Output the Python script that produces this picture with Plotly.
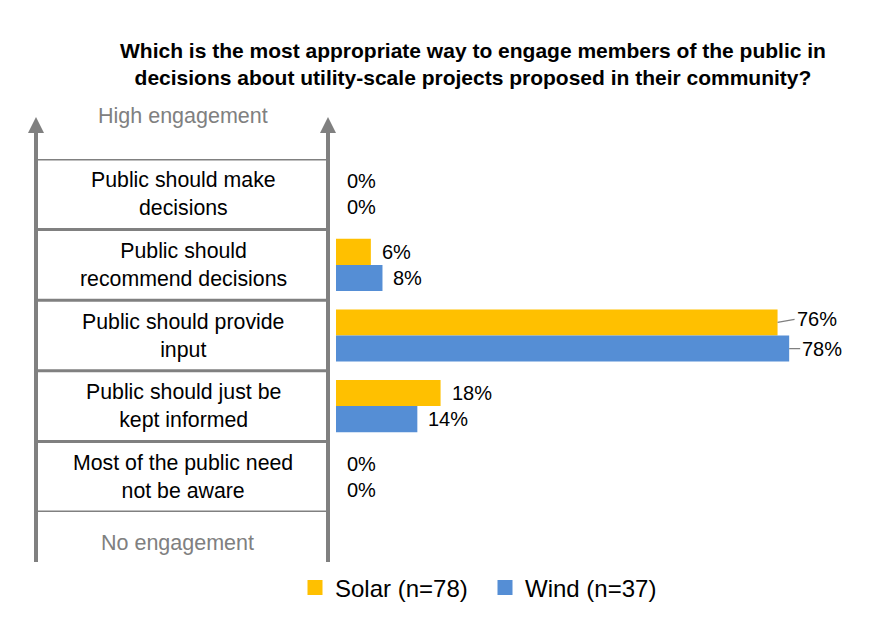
import plotly.graph_objects as go

categories = ["Public should make<br>decisions",
              "Public should<br>recommend decisions",
              "Public should provide<br>input",
              "Public should just be<br>kept informed",
              "Most of the public need<br>not be aware"]
solar = [0, 6, 76, 18, 0]
wind = [0, 8, 78, 14, 0]
series_names = ["Solar (n=78)", "Wind (n=37)"]
colors = ["#FFC000", "#558ED5"]
title = ("Which is the most appropriate way to engage members of the public in<br>"
         "decisions about utility-scale projects proposed in their community?")
top_label = "High engagement"
bottom_label = "No engagement"

W, H = 872, 626
OFF = 8  # page body margin
PX0, PX1, PY0, PY1 = 336, 842, 159, 512
L, T = PX0 - OFF, PY0 - OFF
R, B = W - (PX1 - OFF), H - (PY1 - OFF)
PW, PH = PX1 - PX0, PY1 - PY0
FONT = "Liberation Sans, Arial, sans-serif"
GRAY = "#808080"


def xp(px):
    return (px - PX0) / PW


def yp(py):
    return (PY1 - py) / PH


ycat = list(range(len(categories)))
fig = go.Figure()
for name, vals, col in zip(series_names, [solar, wind], colors):
    fig.add_trace(go.Bar(y=ycat, x=vals, name=name, orientation="h", legendgroup=name,
                         showlegend=False,
                         marker=dict(color=col, line=dict(width=0))))
# legend entries with larger square swatches
for name, col in zip(series_names, colors):
    fig.add_trace(go.Scatter(x=[None], y=[None], mode="markers", name=name, legendgroup=name,
                             marker=dict(symbol="square", size=15, color=col)))

annotations = []
# data labels
off = 0.185
for vals, sgn in [(solar, -1), (wind, 1)]:
    for i, v in enumerate(vals):
        yy = i + sgn * off
        if v >= 50:
            annotations.append(dict(x=v, y=yy, xref="x", yref="y", text=f"{v}%",
                                    showarrow=True, arrowhead=0, arrowcolor=GRAY, arrowwidth=1.2,
                                    ax=17 if sgn < 0 else 11, ay=-3 if sgn < 0 else 0,
                                    xanchor="left", standoff=0,
                                    font=dict(family=FONT, size=20, color="#000")))
        else:
            annotations.append(dict(x=v, y=yy, xref="x", yref="y", text=f"{v}%",
                                    showarrow=False, xanchor="left", xshift=9,
                                    font=dict(family=FONT, size=20, color="#000")))

# category labels
for i, c in enumerate(categories):
    annotations.append(dict(x=xp(183), y=i, xref="paper", yref="y", text=c,
                            showarrow=False, xanchor="center", yanchor="middle",
                            font=dict(family=FONT, size=21.3, color="#000")))

annotations.append(dict(x=xp(183), y=yp(116), xref="paper", yref="paper", text=top_label,
                        showarrow=False, xanchor="center", yanchor="middle",
                        font=dict(family=FONT, size=21.5, color=GRAY)))
annotations.append(dict(x=xp(177), y=yp(543), xref="paper", yref="paper", text=bottom_label,
                        showarrow=False, xanchor="center", yanchor="middle",
                        font=dict(family=FONT, size=21.5, color=GRAY)))
annotations.append(dict(x=xp(473), y=yp(64), xref="paper", yref="paper", text="<b>" + title + "</b>",
                        showarrow=False, xanchor="center", yanchor="middle",
                        font=dict(family=FONT, size=21, color="#000")))

shapes = []
# row separators
for k in range(len(categories) + 1):
    shapes.append(dict(type="line", xref="paper", yref="y", x0=xp(36), x1=xp(329),
                       y0=k - 0.5, y1=k - 0.5, line=dict(color=GRAY, width=3)))
# vertical arrows
for cx in [36, 328]:
    shapes.append(dict(type="line", xref="paper", yref="paper", x0=xp(cx), x1=xp(cx),
                       y0=yp(130), y1=yp(562), line=dict(color=GRAY, width=4)))
    path = (f"M {xp(cx-8)},{yp(133)} L {xp(cx)},{yp(117)} L {xp(cx+8)},{yp(133)} Z")
    shapes.append(dict(type="path", xref="paper", yref="paper", path=path,
                       fillcolor=GRAY, line=dict(color=GRAY, width=0)))

fig.update_layout(
    width=W, height=H, margin=dict(l=L, r=R, t=T, b=B, autoexpand=False),
    paper_bgcolor="white", plot_bgcolor="white",
    barmode="group", bargap=0.26, bargroupgap=0,
    xaxis=dict(range=[0, PW / 5.81], showticklabels=False, showgrid=False,
               zeroline=False, showline=False, fixedrange=True),
    yaxis=dict(range=[len(categories) - 0.5, -0.5], showticklabels=False, showgrid=False,
               zeroline=False, showline=False, tickvals=[]),
    showlegend=True,
    legend=dict(orientation="h", x=xp(295), y=yp(588), xanchor="left", yanchor="middle",
                font=dict(family=FONT, size=24, color="#000"), itemwidth=30,
                entrywidth=145, traceorder="normal"),
    annotations=annotations, shapes=shapes,
)
fig.write_html("out.html")
